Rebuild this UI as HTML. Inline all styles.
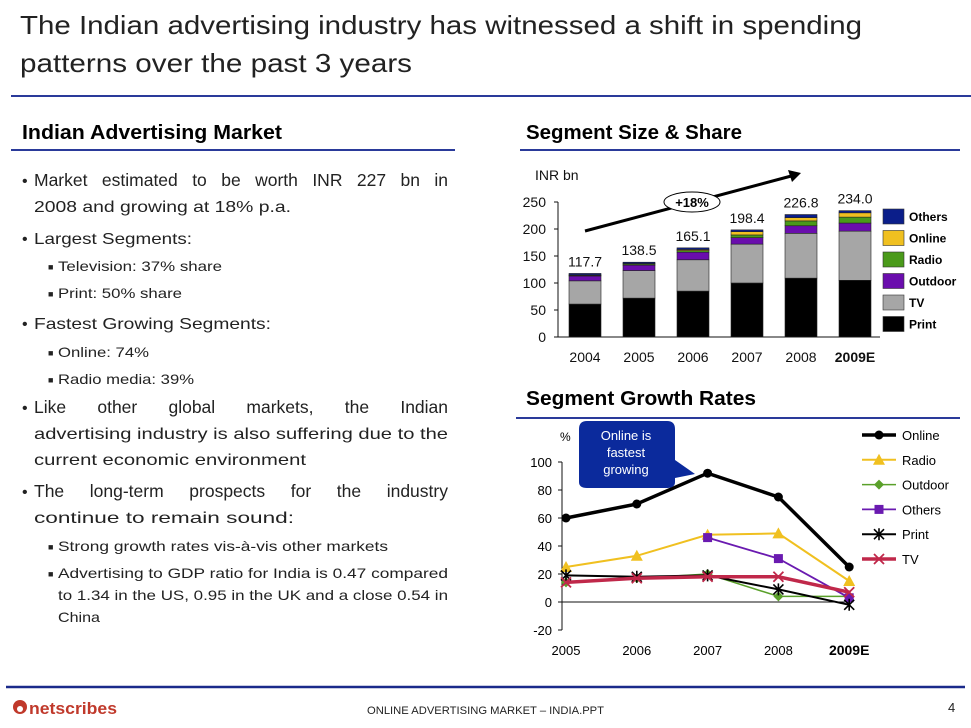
<!DOCTYPE html>
<html><head><meta charset="utf-8"><style>
html,body{margin:0;padding:0;background:#fff}
svg{display:block;font-family:"Liberation Sans",sans-serif}
</style></head><body>
<svg id="page" width="971" height="728" viewBox="0 0 971 728" xmlns="http://www.w3.org/2000/svg">
<g font-size="26" fill="#222">
<text x="20" y="34" textLength="842" lengthAdjust="spacingAndGlyphs">The Indian advertising industry has witnessed a shift in spending</text>
<text x="20" y="72" textLength="392" lengthAdjust="spacingAndGlyphs">patterns over the past 3 years</text>
</g>
<line x1="11" y1="96" x2="971" y2="96" stroke="#2a3a9a" stroke-width="2"/>
<text x="22" y="139" font-size="20" font-weight="bold" textLength="260" lengthAdjust="spacingAndGlyphs">Indian Advertising Market</text>
<line x1="11" y1="150" x2="455" y2="150" stroke="#2a3a9a" stroke-width="2"/>
<text x="526" y="139" font-size="20" font-weight="bold" textLength="216" lengthAdjust="spacingAndGlyphs">Segment Size &amp; Share</text>
<line x1="520" y1="150" x2="960" y2="150" stroke="#2a3a9a" stroke-width="2"/>
<text x="526" y="405" font-size="20" font-weight="bold" textLength="230" lengthAdjust="spacingAndGlyphs">Segment Growth Rates</text>
<line x1="516" y1="418" x2="960" y2="418" stroke="#2a3a9a" stroke-width="2"/>

<g font-size="16" fill="#222">
<text x="22" y="186">•</text><text class="just" data-w="414" x="34" y="186" font-size="17.5">Market estimated to be worth INR 227 bn in</text>
<text x="34" y="212" textLength="257" lengthAdjust="spacingAndGlyphs">2008 and growing at 18% p.a.</text>
<text x="22" y="244">•</text><text x="34" y="244" textLength="158" lengthAdjust="spacingAndGlyphs">Largest Segments:</text>
<text x="48" y="270" font-size="9">■</text><text x="58" y="271" font-size="14" textLength="164" lengthAdjust="spacingAndGlyphs">Television: 37% share</text>
<text x="48" y="297" font-size="9">■</text><text x="58" y="298" font-size="14" textLength="124" lengthAdjust="spacingAndGlyphs">Print: 50% share</text>
<text x="22" y="329">•</text><text x="34" y="329" textLength="237" lengthAdjust="spacingAndGlyphs">Fastest Growing Segments:</text>
<text x="48" y="356" font-size="9">■</text><text x="58" y="357" font-size="14" textLength="91" lengthAdjust="spacingAndGlyphs">Online: 74%</text>
<text x="48" y="383" font-size="9">■</text><text x="58" y="384" font-size="14" textLength="136" lengthAdjust="spacingAndGlyphs">Radio media: 39%</text>
<text x="22" y="413">•</text><text class="just" data-w="414" x="34" y="413" font-size="17.5">Like other global markets, the Indian</text>
<text x="34" y="439" textLength="414" lengthAdjust="spacingAndGlyphs">advertising industry is also suffering due to the</text>
<text x="34" y="465" textLength="272" lengthAdjust="spacingAndGlyphs">current economic environment</text>
<text x="22" y="497">•</text><text class="just" data-w="414" x="34" y="497" font-size="17.5">The long-term prospects for the industry</text>
<text x="34" y="523" textLength="260" lengthAdjust="spacingAndGlyphs">continue to remain sound:</text>
<text x="48" y="550" font-size="9">■</text><text x="58" y="551" font-size="14" textLength="330" lengthAdjust="spacingAndGlyphs">Strong growth rates vis-à-vis other markets</text>
<text x="48" y="577" font-size="9">■</text><text x="58" y="578" font-size="14" textLength="390" lengthAdjust="spacingAndGlyphs">Advertising to GDP ratio for India is 0.47 compared</text>
<text x="58" y="600" font-size="14" textLength="390" lengthAdjust="spacingAndGlyphs">to 1.34 in the US, 0.95 in the UK and a close 0.54 in</text>
<text x="58" y="622" font-size="14" textLength="42" lengthAdjust="spacingAndGlyphs">China</text>
</g>

<g id="barchart"></g>
<g id="linechart"></g>

<line x1="6" y1="687" x2="965" y2="687" stroke="#1a2a8a" stroke-width="2.5"/>
<g>
<circle cx="20" cy="707" r="7" fill="#c0392b"/><circle cx="20" cy="709" r="3" fill="#fff"/>
<text x="29" y="714" font-size="17" font-weight="bold" fill="#c0392b" textLength="88" lengthAdjust="spacingAndGlyphs">netscribes</text>
</g>
<text x="367" y="714" font-size="11" fill="#222" textLength="237" lengthAdjust="spacingAndGlyphs">ONLINE ADVERTISING MARKET – INDIA.PPT</text>
<text x="948" y="712" font-size="13" fill="#222">4</text>
</svg>
<script>
// ---- bar chart data ----
const barYears = ["2004","2005","2006","2007","2008","2009E"];
const barTotals = ["117.7","138.5","165.1","198.4","226.8","234.0"];
const printVals = [61,72,85,100,109,105];
const tvVals = [43,51,58,72,83,91];
const outdoorVals = [9,10,14,12,14,15];
const radioVals = [1,2,3,5,9,11];
const onlineVals = [1,1,2,6,6,8];
const othersVals = [2.7,2.5,3.1,3.4,5.8,4.0];
const barTicks = [0,50,100,150,200,250];
// ---- line chart data ----
const lineYears = ["2005","2006","2007","2008","2009E"];
const onlineGrowth = [60,70,92,75,25];
const radioGrowth = [25,33,48,49,15];
const outdoorGrowth = [14,17,20,4,4];
const othersGrowth = [null,null,46,31,3];
const printGrowth = [19,18,19,9,-2];
const tvGrowth = [14,17,18,18,7];
const lineTicks = [-20,0,20,40,60,80,100];

const NS="http://www.w3.org/2000/svg";
function mk(parent,tag,attrs){const e=document.createElementNS(NS,tag);for(const k in attrs)e.setAttribute(k,attrs[k]);parent.appendChild(e);return e;}

document.querySelectorAll('text.just').forEach(t=>{
 const target=+t.getAttribute('data-w');
 const w=t.getComputedTextLength();
 const spaces=(t.textContent.match(/ /g)||[]).length;
 if(spaces&&w<target)t.setAttribute('word-spacing',((target-w)/spaces).toFixed(2));
 else if(w>target){t.setAttribute('textLength',target);t.setAttribute('lengthAdjust','spacingAndGlyphs');}
});

(function(){
const g=document.getElementById('barchart');
const y=v=>337-v*135/250;
const x=i=>585+i*54;
const bw=32;
const t=mk(g,'text',{x:535,y:180,'font-size':14,fill:'#111'});t.textContent='INR bn';


const ax=mk(g,'line',{x1:558,y1:y(250),x2:558,y2:y(0),stroke:'#111','stroke-width':1});


const bx=mk(g,'line',{x1:558,y1:y(0),x2:880,y2:y(0),stroke:'#111','stroke-width':1});


barTicks.forEach(v=>{
 const l=mk(g,'line',{x1:554,y1:y(v),x2:558,y2:y(v),stroke:'#111'});
 
 
 const tt=mk(g,'text',{x:546,y:y(v)+5,'font-size':14,'text-anchor':'end',fill:'#111'});tt.textContent=v;
 
 
});
const series=[[printVals,'#000','print'],[tvVals,'#a6a6a6','tv'],[outdoorVals,'#6a0dad','outdoor'],[radioVals,'#4a9a1a','radio'],[onlineVals,'#f0c020','online'],[othersVals,'#0b1e8a','others']];
barYears.forEach((yr,i)=>{
 let acc=0;
 series.forEach(s=>{
  const v=s[0][i];
  const r=mk(g,'rect',{x:x(i)-bw/2,y:y(acc+v),width:bw,height:y(acc)-y(acc+v),fill:s[1],stroke:'#222','stroke-width':0.6});
  
  
  acc+=v;
 });
 const lt=mk(g,'text',{x:x(i),y:y(acc)-7,'font-size':14,'text-anchor':'middle',fill:'#111'});lt.textContent=barTotals[i];
 
 
 const xl=mk(g,'text',{x:x(i),y:362,'font-size':14,'text-anchor':'middle',fill:'#111','font-weight':yr==='2009E'?'bold':'normal'});xl.textContent=yr;
 
 
});
const ar=mk(g,'line',{x1:585,y1:231,x2:795,y2:175,stroke:'#000','stroke-width':3});


const ah=mk(g,'polygon',{points:'801,173 788,170 792,182',fill:'#000'});


const el=mk(g,'ellipse',{cx:692,cy:202,rx:28,ry:10,fill:'#fff',stroke:'#000','stroke-width':1});


const et=mk(g,'text',{x:692,y:207,'font-size':13,'font-weight':'bold','text-anchor':'middle'});et.textContent='+18%';


const names=['Others','Online','Radio','Outdoor','TV','Print'];
const cols=['#0b1e8a','#f0c020','#4a9a1a','#6a0dad','#a6a6a6','#000'];
names.forEach((n,k)=>{
 const yy=209+k*21.5;
 const r=mk(g,'rect',{x:883,y:yy,width:21,height:15,fill:cols[k],stroke:'#333','stroke-width':0.6});
 
 
 const tt=mk(g,'text',{x:909,y:yy+12,'font-size':12,'font-weight':'bold'});tt.textContent=n;
 
 
});
})();

(function(){
const g=document.getElementById('linechart');
const y=v=>602-v*1.4;
const x=i=>566+i*70.8;
const ax=mk(g,'line',{x1:562,y1:y(100),x2:562,y2:y(-20),stroke:'#111'});


const zl=mk(g,'line',{x1:562,y1:y(0),x2:850,y2:y(0),stroke:'#111'});


const u=mk(g,'text',{x:560,y:441,'font-size':12});u.textContent='%';


lineTicks.forEach(v=>{
 const l=mk(g,'line',{x1:558,y1:y(v),x2:562,y2:y(v),stroke:'#111'});
 
 
 const tt=mk(g,'text',{x:552,y:y(v)+5,'font-size':13,'text-anchor':'end'});tt.textContent=v;
 
 
});
lineYears.forEach((yr,i)=>{
 const tt=mk(g,'text',{x:x(i),y:655,'font-size':yr==='2009E'?14:13,'text-anchor':'middle','font-weight':yr==='2009E'?'bold':'normal'});tt.textContent=yr;
 
 
});
function marker(gg,type,cx,cy,c){
 if(type==='circle')return mk(gg,'circle',{cx:cx,cy:cy,r:4.5,fill:c});
 if(type==='tri')return mk(gg,'polygon',{points:`${cx},${cy-6} ${cx-6},${cy+5} ${cx+6},${cy+5}`,fill:c});
 if(type==='diamond')return mk(gg,'polygon',{points:`${cx},${cy-5} ${cx+5},${cy} ${cx},${cy+5} ${cx-5},${cy}`,fill:c});
 if(type==='square')return mk(gg,'rect',{x:cx-4.5,y:cy-4.5,width:9,height:9,fill:c});
 if(type==='star')return mk(gg,'path',{d:`M${cx-5},${cy-5}L${cx+5},${cy+5}M${cx+5},${cy-5}L${cx-5},${cy+5}M${cx},${cy-6}V${cy+6}`,stroke:c,'stroke-width':1.6,fill:'none'});
 return mk(gg,'path',{d:`M${cx-5},${cy-5}L${cx+5},${cy+5}M${cx+5},${cy-5}L${cx-5},${cy+5}`,stroke:c,'stroke-width':1.8,fill:'none'});
}
const S=[['online',onlineGrowth,'#000','circle',3.5,'Online'],['radio',radioGrowth,'#f0c020','tri',2,'Radio'],['outdoor',outdoorGrowth,'#5aa02a','diamond',1.5,'Outdoor'],['others',othersGrowth,'#6a1ab0','square',1.8,'Others'],['print',printGrowth,'#000','star',2,'Print'],['tv',tvGrowth,'#c0284a','x',3.5,'TV']];
S.forEach((s,k)=>{
 const sg=mk(g,'g',{});
 
 
 let d='';
 s[1].forEach((v,i)=>{if(v===null)return;d+=(d?'L':'M')+x(i)+','+y(v);});
 const p=mk(sg,'path',{d:d,fill:'none',stroke:s[2],'stroke-width':s[4]});
 
 
 s[1].forEach((v,i)=>{if(v===null)return;
  const m=marker(sg,s[3],x(i),y(v),s[2]);
  
  
 });
 const ly=435+k*24.8;
 const lg=mk(g,'g',{});
 
 
 mk(lg,'line',{x1:862,y1:ly,x2:896,y2:ly,stroke:s[2],'stroke-width':Math.max(s[4],1.5)});
 marker(lg,s[3],879,ly,s[2]);
 const tt=mk(lg,'text',{x:902,y:ly+5,'font-size':13});tt.textContent=s[5];
});
const co=mk(g,'path',{d:'M587,421H667Q675,421 675,429V460L695,474L675,478V482Q675,488 667,488H587Q579,488 579,482V429Q579,421 587,421Z',fill:'#0b2a9c'});


['Online is','fastest','growing'].forEach((s,i)=>{
 const tt=mk(g,'text',{x:626,y:440+i*17,'font-size':13,fill:'#fff','text-anchor':'middle'});tt.textContent=s;
 
 
});
})();
</script>
</body></html>
